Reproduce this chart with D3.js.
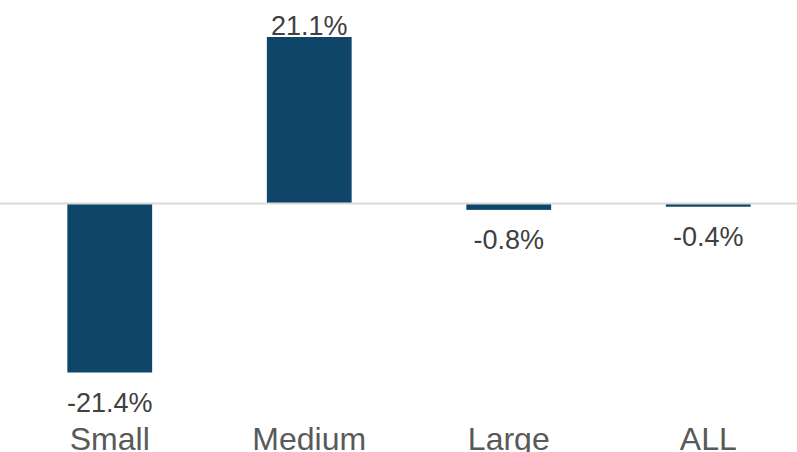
<!DOCTYPE html>
<html>
<head>
<meta charset="utf-8">
<script src="https://cdn.jsdelivr.net/npm/d3@7"></script>
<style>
  html, body { margin: 0; padding: 0; background: #fff; }
  svg { display: block; font-family: "Liberation Sans", Arial, sans-serif; }
</style>
</head>
<body>
<svg id="chart" width="797" height="452"></svg>
<script>
// Change by size segment, in percent
const categories = ["Small", "Medium", "Large", "ALL"];
const values = [-21.4, 21.1, -0.8, -0.4];
const valueLabels = ["-21.4%", "21.1%", "-0.8%", "-0.4%"];

const svg = d3.select("#chart");
const W = 797;

const x = d3.scaleBand()
  .domain(categories)
  .range([10, 808])
  .paddingInner(0.575)
  .paddingOuter(0.2875);

const y = d3.scaleLinear()
  .domain([-21.4, 21.1])
  .range([372.5, 37]);

const data = categories.map((c, i) => ({ cat: c, v: values[i], label: valueLabels[i] }));

// bars
svg.append("g").selectAll("rect")
  .data(data)
  .join("rect")
  .attr("x", d => x(d.cat))
  .attr("width", x.bandwidth())
  .attr("y", d => Math.min(y(d.v), y(0)))
  .attr("height", d => Math.abs(y(d.v) - y(0)))
  .attr("fill", "#0f4568");

// zero baseline
svg.append("line")
  .attr("x1", 0).attr("x2", W)
  .attr("y1", y(0)).attr("y2", y(0))
  .attr("stroke", "#d9d9d9")
  .attr("stroke-width", 2);

// value labels
svg.append("g").selectAll("text")
  .data(data)
  .join("text")
  .attr("x", d => x(d.cat) + x.bandwidth() / 2)
  .attr("y", d => d.v >= 0 ? y(d.v) - 2 : y(d.v) + 39)
  .attr("text-anchor", "middle")
  .attr("font-size", 27)
  .attr("fill", "#404040")
  .text(d => d.label);

// category axis labels
const xAxis = d3.axisBottom(x).tickSize(0).tickPadding(0);
const gx = svg.append("g")
  .attr("transform", "translate(0,426)")
  .call(xAxis);
gx.select(".domain").remove();
gx.selectAll("text")
  .attr("dy", null)
  .attr("y", 24)
  .attr("font-size", 32)
  .attr("font-family", "'Liberation Sans', Arial, sans-serif")
  .attr("fill", "#595959");
</script>
</body>
</html>
